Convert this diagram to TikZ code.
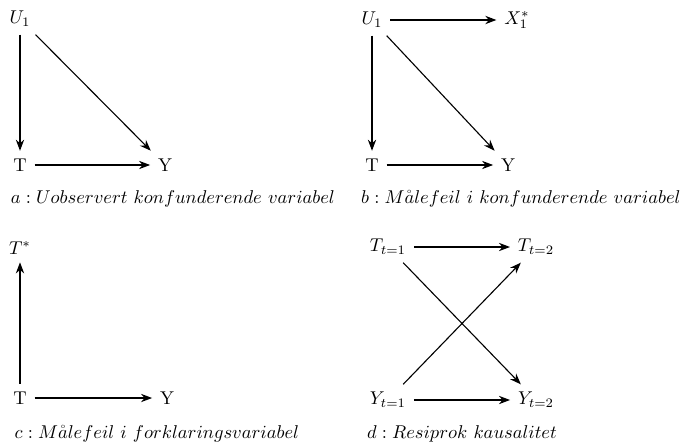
\documentclass[tikz,border=0pt]{standalone}
\usepackage{amsmath,amssymb}
\usepackage{tikz}
\usetikzlibrary{arrows.meta}

\begin{document}
\begin{tikzpicture}[
  x=0.54pt,
  y=-0.54pt,
  var/.style={inner sep=4pt},
  subcap/.style={inner sep=2pt},
  >={Stealth[length=6pt,width=4.5pt]},
  every path/.style={semithick}
]
\useasboundingbox (0,0) rectangle (685,444);

% a: unobserved confounder
\node[var] (Ua) at (20,19) {$U_1$};
\node[var] (Ta) at (20,165) {T};
\node[var] (Ya) at (165,165) {Y};
\draw[->] (Ua) -- (Ta);
\draw[->] (Ua) -- (Ya);
\draw[->] (Ta) -- (Ya);
\node[subcap] (capa) at (173,199) {$a: Uobservert\ konfunderende\ variabel$};

% b: measurement error in confounder
\node[var] (Ub) at (372,20) {$U_1$};
\node[var] (Xb) at (517,20) {$X_1^*$};
\node[var] (Tb) at (372,165) {T};
\node[var] (Yb) at (508,165) {Y};
\draw[->] (Ub) -- (Xb);
\draw[->] (Ub) -- (Tb);
\draw[->] (Ub) -- (Yb);
\draw[->] (Tb) -- (Yb);
\node[subcap] (capb) at (521,199) {$b: M\mathring{a}lefeil\ i\ konfunderende\ variabel$};

% c: measurement error in explanatory variable
\node[var] (Tsc) at (20,248) {$T^*$};
\node[var] (Tc) at (20,398) {T};
\node[var] (Yc) at (167,398) {Y};
\draw[->] (Tc) -- (Tsc);
\draw[->] (Tc) -- (Yc);
\node[subcap] (capc) at (157,434) {$c: M\mathring{a}lefeil\ i\ forklaringsvariabel$};

% d: reciprocal causality
\node[var] (T1) at (388,247) {$T_{t=1}$};
\node[var] (T2) at (536,247) {$T_{t=2}$};
\node[var] (Y1) at (388,400) {$Y_{t=1}$};
\node[var] (Y2) at (536,400) {$Y_{t=2}$};
\draw[->] (T1) -- (T2);
\draw[->] (Y1) -- (Y2);
\draw[->] (T1) -- (Y2);
\draw[->] (Y1) -- (T2);
\node[subcap] (capd) at (462,434) {$d: Resiprok\ kausalitet$};
\end{tikzpicture}
\end{document}
